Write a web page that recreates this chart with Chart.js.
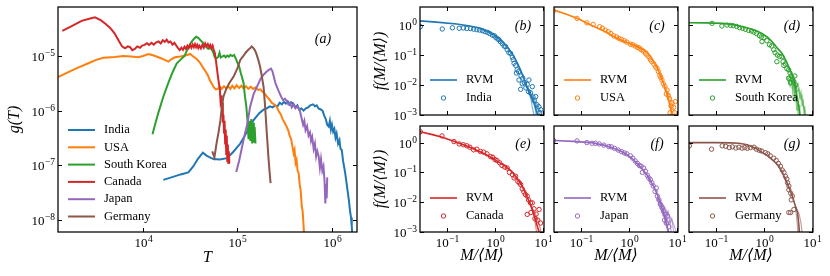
<!DOCTYPE html>
<html>
<head>
<meta charset="utf-8">
<script src="https://cdn.jsdelivr.net/npm/chart.js@4.4.1/dist/chart.umd.min.js"></script>
<style>
  html, body { margin: 0; padding: 0; background: #fff; }
  #wrap { position: relative; width: 830px; height: 276px; overflow: hidden; }
</style>
</head>
<body>
<div id="wrap"></div>
<script>
// ---- panel (a): g(T) curves, [T, g] pairs ----
const countries = ['India', 'USA', 'South Korea', 'Canada', 'Japan', 'Germany'];
const colors = ['#1f77b4', '#ff7f0e', '#2ca02c', '#d62728', '#9467bd', '#8c564b'];

const indiaCurve = [[16400,5.4e-8],[20000,6e-8],[25000,6.8e-8],[30200,7.4e-8],[34000,9.5e-8],[38000,1.3e-7],[43000,1.7e-7],[47000,1.5e-7],[51000,1.4e-7],[55700,1.3e-7],[65000,1.28e-7],[77600,1.35e-7],[90000,1.75e-7],[107000,2.5e-7],[125000,4e-7],[148000,6.7e-7],[170000,9e-7],[190000,1.05e-6],[204000,1.1e-6],[220000,1.2e-6],[235000,1.15e-6],[250000,1.25e-6],[265000,1.2e-6],[280000,1.4e-6],[295000,1.3e-6],[309000,1.45e-6],[325000,1.35e-6],[340000,1.48e-6],[355000,1.3e-6],[370000,1.42e-6],[389000,1.35e-6],[410000,1.15e-6],[430000,1.25e-6],[450000,1.05e-6],[475000,1.1e-6],[500000,1.0e-6],[530000,1.1e-6],[560000,1.15e-6],[590000,1.25e-6],[631000,1.3e-6],[660000,1.2e-6],[690000,1.25e-6],[720000,1.1e-6],[760000,1.05e-6],[794000,1.0e-6],[830000,8e-7],[860000,7e-7],[890000,5.5e-7],[923000,5.1e-7],[950000,6.5e-7],[975000,4.5e-7],[1000000,5.5e-7],[1030000,4.1e-7],[1060000,4.6e-7],[1090000,3.2e-7],[1120000,3.8e-7],[1160000,2.5e-7],[1200000,2.9e-7],[1230000,2.0e-7],[1270000,1.9e-7],[1310000,1.2e-7],[1350000,9e-8],[1380000,7.2e-8],[1420000,5e-8],[1460000,3.5e-8],[1510000,2.3e-8],[1550000,1.5e-8],[1590000,1.1e-8],[1620000,7.6e-9],[1660000,4e-9]];
const usaCurve = [[1260,4.1e-6],[1600,5e-6],[2000,6e-6],[2600,7.3e-6],[3200,8.5e-6],[3800,9.3e-6],[5000,9.6e-6],[6200,1.0e-5],[7500,9.8e-6],[8900,9.5e-6],[10000,1.0e-5],[11400,1.09e-5],[13000,1.02e-5],[15000,9.3e-6],[17000,8.5e-6],[18600,7.9e-6],[20000,8.8e-6],[21800,9.5e-6],[25000,9.8e-6],[28000,1.02e-5],[31600,1.09e-5],[34000,9.8e-6],[37000,8.8e-6],[40000,7.6e-6],[43000,6.2e-6],[46000,5.2e-6],[49000,4.3e-6],[51000,3.6e-6],[53000,3.2e-6],[56000,2.7e-6],[59000,2.45e-6],[62000,2.5e-6],[65000,2.75e-6],[68000,2.5e-6],[72000,2.8e-6],[76000,2.55e-6],[80000,2.8e-6],[84000,2.5e-6],[88000,2.85e-6],[93000,2.55e-6],[98000,2.9e-6],[104000,2.6e-6],[110000,2.85e-6],[116000,2.55e-6],[123000,2.8e-6],[130000,2.5e-6],[138000,2.75e-6],[146000,2.5e-6],[155000,2.65e-6],[165000,2.4e-6],[175000,2.45e-6],[185000,2.2e-6],[195000,2.05e-6],[205000,1.8e-6],[218000,1.6e-6],[230000,1.4e-6],[245000,1.3e-6],[262000,1.15e-6],[275000,9.5e-7],[288000,8.5e-7],[300000,7e-7],[315000,6e-7],[331000,5.1e-7],[345000,4.3e-7],[358000,3.4e-7],[370000,3.0e-7],[382000,2.2e-7],[393000,1.65e-7],[402000,1.9e-7],[412000,1.1e-7],[422000,1.25e-7],[432000,8e-8],[444000,7.2e-8],[455000,4.5e-8],[466000,3.5e-8],[479000,1.76e-8],[490000,1.4e-8],[500000,8e-9],[512000,4e-9]];
const koreaCurve = [[12600,3.7e-7],[13400,5.5e-7],[14500,9e-7],[16400,1.8e-6],[18500,3.2e-6],[20500,5e-6],[22700,7.3e-6],[25000,8.6e-6],[27500,1.0e-5],[30200,1.45e-5],[32500,1.8e-5],[34500,2.05e-5],[36500,2.25e-5],[38500,2.15e-5],[40500,1.95e-5],[43000,1.75e-5],[46000,1.5e-5],[49000,1.35e-5],[52000,1.4e-5],[55000,1.2e-5],[57500,9.5e-6],[60000,9.1e-6],[62500,9.6e-6],[64500,1.15e-5],[66500,9.4e-6],[69000,9.8e-6],[72000,1.02e-5],[75000,9.5e-6],[78000,1.02e-5],[81000,9.7e-6],[84000,1.05e-5],[88000,1.0e-5],[92000,1.05e-5],[96000,9e-6],[100000,7.5e-6],[104000,6.5e-6],[108000,5e-6],[112000,4e-6],[116000,3.2e-6],[120000,1.8e-6],[124000,1.2e-6],[128000,6e-7],[131000,3e-7],[134000,6.5e-7],[137000,2.8e-7],[140000,7e-7],[143000,2.5e-7],[146000,6e-7],[149000,2.6e-7],[152000,5e-7],[155000,2.5e-7]];
const canadaCurve = [[1400,2.9e-5],[1800,3.6e-5],[2240,4.4e-5],[2700,4.8e-5],[3100,5.1e-5],[3600,4.5e-5],[4000,3.9e-5],[4470,3.3e-5],[5000,2.6e-5],[5500,1.95e-5],[6000,1.5e-5],[6450,1.38e-5],[6900,1.5e-5],[7300,1.45e-5],[7700,1.28e-5],[8200,1.35e-5],[8700,1.5e-5],[9300,1.42e-5],[9800,1.55e-5],[10400,1.6e-5],[11000,1.72e-5],[11600,1.6e-5],[12300,1.75e-5],[13000,1.62e-5],[13800,1.78e-5],[14600,1.85e-5],[15400,1.7e-5],[16200,1.95e-5],[17000,1.82e-5],[17800,2.0e-5],[18600,1.78e-5],[19500,1.85e-5],[20500,1.62e-5],[21500,1.75e-5],[22500,1.55e-5],[23500,1.4e-5],[24500,1.28e-5],[25500,1.42e-5],[26500,1.3e-5],[27500,1.48e-5],[28500,1.35e-5],[29500,1.55e-5],[30500,1.4e-5],[31500,1.6e-5],[32500,1.42e-5],[33500,1.62e-5],[34500,1.45e-5],[35500,1.65e-5],[36500,1.45e-5],[37500,1.6e-5],[38500,1.4e-5],[39500,1.55e-5],[41000,1.38e-5],[42500,1.6e-5],[44000,1.42e-5],[45500,1.7e-5],[47000,1.5e-5],[48500,1.65e-5],[50000,1.45e-5],[51500,1.6e-5],[53000,1.4e-5],[54500,1.55e-5],[56000,1.3e-5],[57500,1.15e-5],[59000,8.5e-6],[60500,6e-6],[62000,4.3e-6],[63500,3.2e-6],[65000,2.5e-6],[66000,1.6e-6],[67000,1.9e-6],[68000,1.1e-6],[69000,1.4e-6],[70000,6e-7],[71000,8.5e-7],[72000,4e-7],[73000,6.5e-7],[74000,2.5e-7],[75000,4.5e-7],[76000,1.6e-7],[77000,3.5e-7],[78000,1.2e-7],[79000,2.4e-7],[80000,1.1e-7],[81000,1.8e-7],[82000,1.1e-7]];
const japanCurve = [[97000,7.5e-8],[104000,1.2e-7],[112000,2.2e-7],[120000,3.8e-7],[128000,6e-7],[136000,1.18e-6],[148000,2.0e-6],[161000,2.75e-6],[175000,3.8e-6],[190000,4.6e-6],[204000,5.2e-6],[215000,5.6e-6],[226000,5.9e-6],[234000,5.3e-6],[242000,4.2e-6],[252000,3.2e-6],[262000,2.7e-6],[275000,2.2e-6],[290000,1.8e-6],[305000,1.55e-6],[318000,1.65e-6],[331000,1.5e-6],[345000,1.3e-6],[360000,1.4e-6],[375000,1.15e-6],[390000,1.3e-6],[410000,1.1e-6],[430000,1.2e-6],[457000,1.0e-6],[475000,7.5e-7],[495000,5.5e-7],[510000,6.5e-7],[525000,4.4e-7],[545000,5.2e-7],[565000,3.5e-7],[585000,4e-7],[600000,2.8e-7],[617000,3.3e-7],[640000,2.0e-7],[660000,2.5e-7],[680000,1.45e-7],[700000,1.8e-7],[724000,1.45e-7],[745000,9e-8],[765000,1.3e-7],[790000,8e-8],[813000,9.5e-8],[835000,5e-8],[851000,2e-8],[865000,4.5e-8],[880000,2.5e-8],[890000,6e-8]];
const germanyCurve = [[54000,1.8e-7],[57000,1.4e-7],[60000,2.5e-7],[63000,4e-7],[66000,6.7e-7],[68000,1.1e-6],[71000,1.8e-6],[76000,2.5e-6],[82000,3.2e-6],[91000,4.2e-6],[100000,6e-6],[107000,8.5e-6],[115000,1.0e-5],[122000,1.15e-5],[130000,1.3e-5],[136000,1.38e-5],[141000,1.5e-5],[146000,1.42e-5],[152000,1.3e-5],[158000,1.12e-5],[166000,8.5e-6],[173000,6.5e-6],[180000,4.5e-6],[189000,2.7e-6],[196000,1.2e-6],[204000,4e-7],[212000,1.5e-7],[218000,8e-8],[224000,4.7e-8]];
const curvesA = [indiaCurve, usaCurve, koreaCurve, canadaCurve, japanCurve, germanyCurve];

// ticks
const ticksT = [1e4, 1e5, 1e6];
const ticksG = [1e-8, 1e-7, 1e-6, 1e-5];
const ticksM = [0.1, 1, 10];
const ticksF = [1e-3, 1e-2, 1e-1, 1];

// ---- panels (b)-(g): RVM curve, RVM tail realisations, data points, [x, f] pairs ----
const rvmIndia = [[0.0275,1.38],[0.06,1.25],[0.16,1.08],[0.3,0.93],[0.5,0.78],[0.7,0.62],[0.95,0.47],[1.2,0.35],[1.55,0.245],[2.0,0.15],[2.5,0.088],[3.0,0.05],[3.4,0.032],[4.0,0.017],[4.6,0.0088],[5.5,0.0045],[6.5,0.0025],[7.5,0.0012],[8.0,0.0009]];
const tailsIndia = [
  [[4.2,0.012],[5.0,0.006],[5.6,0.0035],[6.0,0.0018],[6.4,0.0011],[6.6,0.0008]],
  [[4.2,0.012],[5.2,0.0062],[6.2,0.0034],[7.0,0.0022],[7.8,0.0015],[8.5,0.0011],[9.0,0.0008]],
  [[4.2,0.012],[5.4,0.0058],[6.8,0.003],[7.9,0.0019],[8.9,0.0013],[9.6,0.0009]],
  [[4.2,0.012],[4.9,0.0075],[5.8,0.0042],[6.6,0.0024],[7.0,0.0014],[7.3,0.0009]]
];
const ptsIndia = [[0.028,0.88],[0.08,0.74],[0.13,0.81],[0.18,0.78],[0.22,0.8],[0.26,0.77],[0.31,0.76],[0.36,0.73],[0.42,0.7],[0.48,0.68],[0.55,0.65],[0.62,0.6],[0.7,0.57],[0.78,0.52],[0.88,0.46],[0.97,0.44],[1.05,0.38],[1.15,0.34],[1.2,0.33],[1.3,0.28],[1.42,0.24],[1.55,0.2],[1.67,0.19],[1.8,0.15],[1.95,0.12],[2.12,0.113],[2.3,0.085],[2.5,0.053],[2.4,0.07],[2.7,0.045],[2.9,0.032],[2.8,0.025],[3.16,0.0147],[3.1,0.028],[3.43,0.0072],[3.5,0.02],[3.8,0.017],[3.7,0.011],[4.1,0.012],[4.4,0.008],[4.7,0.0105],[5.1,0.0147],[5.0,0.006],[5.5,0.0055],[6.0,0.0088],[6.2,0.004],[6.6,0.003],[7.05,0.0041],[7.5,0.0022],[8.2,0.0019],[8.6,0.0012],[9.0,0.0015]];

const rvmUSA = [[0.0275,3.16],[0.05,2.3],[0.09,1.6],[0.16,1.0],[0.25,0.72],[0.35,0.57],[0.48,0.41],[0.7,0.31],[0.95,0.25],[1.26,0.215],[1.7,0.17],[2.37,0.13],[3.0,0.075],[3.8,0.041],[4.5,0.021],[5.25,0.0114],[6.0,0.006],[6.7,0.0032],[7.3,0.0018],[7.9,0.0011],[8.3,0.0008]];
const tailsUSA = [
  [[5.5,0.009],[6.5,0.004],[7.2,0.0018],[7.6,0.0009]],
  [[5.5,0.009],[7.0,0.0045],[8.2,0.002],[9.0,0.0009]]
];
const ptsUSA = [[0.027,3.0],[0.083,1.67],[0.133,1.19],[0.18,1.05],[0.245,0.88],[0.28,0.78],[0.32,0.68],[0.37,0.6],[0.42,0.52],[0.48,0.44],[0.55,0.4],[0.62,0.36],[0.7,0.33],[0.8,0.3],[0.9,0.27],[1.07,0.23],[1.2,0.22],[1.35,0.2],[1.5,0.18],[1.65,0.17],[1.8,0.15],[2.0,0.135],[2.2,0.115],[2.37,0.1],[2.6,0.085],[2.8,0.07],[3.0,0.06],[3.3,0.05],[3.6,0.04],[3.83,0.036],[4.1,0.028],[4.4,0.021],[4.87,0.0147],[4.6,0.018],[5.2,0.011],[5.6,0.009],[6.2,0.0068],[6.0,0.005],[6.6,0.0045],[7.0,0.0035],[7.9,0.0025],[7.5,0.002],[8.5,0.0018],[9.2,0.0028],[8.8,0.0012],[7.2,0.0012]];

const rvmKorea = [[0.0275,1.19],[0.06,1.18],[0.14,1.14],[0.25,1.0],[0.48,0.78],[0.7,0.65],[0.91,0.53],[1.2,0.39],[1.47,0.28],[1.9,0.17],[2.37,0.114],[2.8,0.07],[3.27,0.041],[3.7,0.025],[4.2,0.0147],[4.9,0.0041],[5.3,0.002],[5.6,0.001]];
const tailsKorea = [
  [[3.0,0.02],[3.3,0.011],[3.6,0.018],[3.9,0.008],[4.2,0.012],[4.4,0.005],[4.6,0.008],[4.8,0.0025],[5.0,0.004],[5.2,0.0014],[5.4,0.0022],[5.6,0.0008]],
  [[3.3,0.02],[3.8,0.014],[4.3,0.018],[4.7,0.008],[5.1,0.011],[5.5,0.004],[5.9,0.006],[6.2,0.002],[6.5,0.0035],[6.8,0.0012],[7.1,0.002],[7.3,0.0008]],
  [[3.2,0.018],[3.5,0.009],[3.8,0.014],[4.0,0.005],[4.2,0.009],[4.4,0.0028],[4.6,0.005],[4.8,0.0014],[5.0,0.0024],[5.2,0.0008]],
  [[3.5,0.02],[4.1,0.016],[4.6,0.011],[5.0,0.006],[5.4,0.0075],[5.8,0.0035],[6.2,0.0045],[6.6,0.002],[7.0,0.0014],[7.4,0.0008]]
];
const ptsKorea = [[0.083,1.14],[0.133,0.93],[0.17,1.0],[0.2,0.98],[0.23,0.95],[0.27,0.9],[0.31,0.82],[0.36,0.78],[0.41,0.72],[0.48,0.66],[0.55,0.63],[0.62,0.58],[0.7,0.52],[0.8,0.45],[0.91,0.28],[0.88,0.4],[1.0,0.38],[1.15,0.3],[1.3,0.22],[1.45,0.2],[1.6,0.15],[1.7,0.12],[1.86,0.06],[1.9,0.1],[2.1,0.09],[2.37,0.088],[2.5,0.06],[2.6,0.045],[2.8,0.05],[3.0,0.035],[3.27,0.032],[3.27,0.0167],[3.5,0.025],[3.7,0.02],[3.9,0.015],[4.2,0.013],[4.4,0.02],[4.6,0.01],[3.6,0.012]];

const rvmCanada = [[0.0275,2.3],[0.05,1.85],[0.08,1.5],[0.13,1.15],[0.2,0.9],[0.3,0.7],[0.45,0.52],[0.65,0.4],[0.88,0.3],[1.2,0.22],[1.67,0.16],[2.2,0.11],[2.7,0.074],[3.5,0.04],[4.35,0.02],[5.2,0.01],[6.0,0.0057],[6.8,0.003],[7.6,0.0016],[8.3,0.001]];
const tailsCanada = [
  [[5.5,0.008],[6.5,0.0035],[7.0,0.0017],[7.4,0.0009]],
  [[5.5,0.008],[7.0,0.004],[8.2,0.002],[9.3,0.0009]]
];
const ptsCanada = [[0.028,2.3],[0.079,1.67],[0.14,1.08],[0.18,0.9],[0.22,0.85],[0.26,0.78],[0.3,0.7],[0.36,0.57],[0.42,0.6],[0.5,0.5],[0.58,0.48],[0.68,0.42],[0.81,0.34],[0.9,0.32],[1.0,0.27],[1.1,0.25],[1.25,0.21],[1.4,0.17],[1.6,0.15],[1.8,0.14],[2.0,0.1],[2.3,0.085],[2.5,0.065],[2.7,0.074],[3.0,0.05],[3.2,0.045],[3.43,0.039],[3.7,0.028],[4.0,0.022],[4.3,0.018],[4.7,0.016],[5.0,0.012],[5.5,0.0095],[6.0,0.0095],[4.7,0.0039],[5.6,0.0045],[6.5,0.006],[7.2,0.004],[8.3,0.0057],[8.9,0.002],[7.8,0.0025],[6.8,0.0028]];

const rvmJapan = [[0.0275,1.17],[0.07,1.1],[0.16,1.0],[0.3,0.82],[0.48,0.65],[0.7,0.5],[0.91,0.39],[1.2,0.28],[1.47,0.2],[1.9,0.13],[2.37,0.083],[2.8,0.052],[3.27,0.034],[3.9,0.018],[4.5,0.0095],[5.1,0.005],[5.7,0.0026],[6.3,0.0014],[6.8,0.0009]];
const tailsJapan = [
  [[3.8,0.015],[4.3,0.008],[4.6,0.011],[5.0,0.004],[5.3,0.006],[5.7,0.002],[6.0,0.003],[6.3,0.0012],[6.6,0.0008]],
  [[4.0,0.014],[4.8,0.009],[5.4,0.0065],[6.0,0.004],[6.6,0.005],[7.2,0.002],[7.8,0.0028],[8.4,0.0012],[9.0,0.0008]],
  [[4.2,0.012],[5.2,0.008],[6.0,0.0055],[7.0,0.0035],[7.8,0.0025],[8.6,0.0018],[9.3,0.0012],[10.0,0.0009]],
  [[3.9,0.013],[4.5,0.006],[5.0,0.008],[5.5,0.003],[6.1,0.0045],[6.6,0.0018],[7.1,0.0025],[7.6,0.0009]]
];
const ptsJapan = [[0.027,1.17],[0.083,1.14],[0.133,1.0],[0.17,0.95],[0.2,0.95],[0.24,0.9],[0.3,0.82],[0.38,0.74],[0.43,0.72],[0.5,0.64],[0.6,0.56],[0.7,0.5],[0.8,0.45],[0.9,0.42],[1.07,0.36],[1.2,0.3],[1.35,0.24],[1.5,0.2],[1.65,0.17],[1.8,0.16],[2.02,0.14],[1.9,0.1],[2.2,0.11],[2.4,0.08],[2.6,0.065],[2.79,0.057],[3.0,0.045],[3.2,0.035],[3.5,0.023],[3.7,0.03],[3.9,0.016],[4.2,0.012],[4.5,0.0085],[4.9,0.0065],[5.2,0.005],[5.7,0.0039],[6.3,0.0034],[5.5,0.0025],[6.0,0.002],[6.8,0.0015]];

const rvmGermany = [[0.0275,1.0],[0.1,1.0],[0.2,0.98],[0.3,0.95],[0.45,0.85],[0.67,0.65],[0.9,0.48],[1.26,0.34],[1.6,0.24],[2.05,0.16],[2.45,0.095],[2.83,0.057],[3.3,0.032],[3.9,0.016],[4.5,0.0075],[5.0,0.0045],[5.35,0.0016],[5.5,0.0009]];
const tailsGermany = [
  [[4.5,0.0075],[4.8,0.003],[5.0,0.0015],[5.1,0.0008]],
  [[4.5,0.0075],[5.4,0.004],[5.9,0.002],[6.3,0.0008]]
];
const ptsGermany = [[0.028,0.78],[0.081,0.6],[0.135,0.78],[0.16,0.75],[0.19,0.68],[0.22,0.72],[0.26,0.66],[0.3,0.7],[0.35,0.65],[0.4,0.68],[0.45,0.64],[0.52,0.68],[0.62,0.7],[0.7,0.6],[0.8,0.55],[0.9,0.52],[1.08,0.46],[1.2,0.42],[1.35,0.36],[1.6,0.3],[1.8,0.25],[2.0,0.2],[2.2,0.16],[2.4,0.12],[2.6,0.1],[2.8,0.074],[3.0,0.06],[3.1,0.045],[3.3,0.035],[3.3,0.026],[3.6,0.02],[3.9,0.016],[3.7,0.012],[4.2,0.0057],[3.3,0.0045],[3.6,0.0045]];

// ---- styling ----
const serif = "'Liberation Serif', 'DejaVu Serif', serif";
const titleFont = { family: serif, size: 16, style: 'italic' };
const toXY = pairs => pairs.map(p => ({ x: p[0], y: p[1] }));

// "10" + raised exponent, like mathtext 10^{n}
function drawPow(ctx, v, x, y, align) {
  const e = String(Math.round(Math.log10(v))).replace('-', '\u2212');
  ctx.font = '13px ' + serif;
  const wb = ctx.measureText('10').width;
  ctx.font = '9.5px ' + serif;
  const we = ctx.measureText(e).width;
  const x0 = align === 'right' ? x - wb - we - 0.5 : x - (wb + we + 0.5) / 2;
  ctx.font = '13px ' + serif;
  ctx.fillText('10', x0, y);
  ctx.font = '9.5px ' + serif;
  ctx.fillText(e, x0 + wb + 0.5, y - 5.5);
}

// inward ticks on all four sides, box frame, tick labels
const frameTicks = {
  id: 'frameTicks',
  afterDraw(chart, args, o) {
    const { ctx, chartArea: a, scales } = chart;
    const len = 4;
    ctx.save();
    ctx.strokeStyle = '#000';
    ctx.fillStyle = '#000';
    ctx.lineWidth = 1;
    ctx.textAlign = 'left';
    ctx.textBaseline = 'alphabetic';
    ctx.beginPath();
    for (const t of scales.x.ticks) {
      const px = Math.round(scales.x.getPixelForValue(t.value)) + 0.5;
      if (px < a.left - 1 || px > a.right + 1) continue;
      ctx.moveTo(px, a.bottom); ctx.lineTo(px, a.bottom - len);
      ctx.moveTo(px, a.top); ctx.lineTo(px, a.top + len);
      if (o.xLabels) drawPow(ctx, t.value, px, a.bottom + 15, 'center');
    }
    for (const t of scales.y.ticks) {
      const py = Math.round(scales.y.getPixelForValue(t.value)) + 0.5;
      if (py < a.top - 1 || py > a.bottom + 1) continue;
      ctx.moveTo(a.left, py); ctx.lineTo(a.left + len, py);
      ctx.moveTo(a.right, py); ctx.lineTo(a.right - len, py);
      if (o.yLabels) drawPow(ctx, t.value, a.left - 3, py + 4.5, 'right');
    }
    ctx.stroke();
    ctx.lineWidth = 1.25;
    ctx.strokeRect(a.left, a.top, a.right - a.left, a.bottom - a.top);
    ctx.restore();
  }
};

// legend inside the axes (no frame) + panel tag like (a)
const boxLegend = {
  id: 'boxLegend',
  afterDraw(chart, args, o) {
    const { ctx, chartArea: a } = chart;
    ctx.save();
    ctx.textBaseline = 'middle';
    ctx.textAlign = 'left';
    ctx.font = o.fontSize + 'px ' + serif;
    const items = chart.data.datasets.filter(d => d.label);
    items.forEach((d, i) => {
      const x0 = a.left + o.x;
      const y = a.top + o.y + i * o.dy;
      ctx.strokeStyle = d.borderColor;
      ctx.beginPath();
      if (d.showLine === false) {
        ctx.lineWidth = 1;
        ctx.arc(x0 + o.len / 2, y, 2.2, 0, Math.PI * 2);
      } else {
        ctx.lineWidth = d.borderWidth;
        ctx.moveTo(x0, y); ctx.lineTo(x0 + o.len, y);
      }
      ctx.stroke();
      ctx.fillStyle = '#000';
      ctx.fillText(d.label, x0 + o.len + o.gap, y);
    });
    ctx.font = 'italic 14px ' + serif;
    ctx.textAlign = 'center';
    ctx.fillText(o.tag, a.left + o.tagX, a.top + o.tagY);
    ctx.restore();
  }
};

const wrap = document.getElementById('wrap');

// box = chart area in page pixels, m = room around it (left holds y axis, bottom holds x axis)
function panel(box, m, datasets, xs, ys, legend) {
  const c = document.createElement('canvas');
  const w = box.r - box.l + m.l + m.r, h = box.b - box.t + m.t + m.b;
  c.width = w; c.height = h;
  c.style.cssText = `position:absolute;left:${box.l - m.l}px;top:${box.t - m.t}px;width:${w}px;height:${h}px`;
  wrap.appendChild(c);
  const axis = (s, fit) => ({
    type: 'logarithmic', min: s.min, max: s.max,
    afterBuildTicks: sc => { sc.ticks = s.ticks.map(v => ({ value: v })); },
    afterFit: sc => { if (sc.isHorizontal()) sc.height = fit; else sc.width = fit; },
    grid: { display: false, drawTicks: false },
    border: { display: false },
    ticks: { display: false },
    title: s.title ? { display: true, text: s.title, color: '#000', font: titleFont, padding: s.titlePad } : { display: false }
  });
  return new Chart(c, {
    type: 'line',
    data: { datasets },
    options: {
      responsive: false, animation: false, devicePixelRatio: 1,
      layout: { autoPadding: false, padding: { left: 0, top: m.t, right: m.r, bottom: 0 } },
      scales: { x: axis(xs, m.b), y: axis(ys, m.l) },
      plugins: {
        legend: { display: false }, tooltip: { enabled: false },
        boxLegend: legend,
        frameTicks: { xLabels: xs.labels, yLabels: ys.labels }
      },
      elements: { point: { radius: 0 }, line: { tension: 0 } }
    },
    plugins: [frameTicks, boxLegend]
  });
}

// ---- panel (a) ----
panel({ l: 58, t: 7, r: 357, b: 232 }, { l: 58, t: 7, r: 5, b: 44 },
  curvesA.map((cv, i) => ({
    label: countries[i], data: toXY(cv), borderColor: colors[i], borderWidth: 2,
    pointRadius: 0, fill: false, order: curvesA.length - i
  })),
  { min: 1260, max: 1.84e6, ticks: ticksT, labels: true, title: 'T', titlePad: { bottom: 9 } },
  { min: 6e-9, max: 7.9e-5, ticks: ticksG, labels: true, title: 'g(T)', titlePad: { top: 5 } },
  { x: 10, y: 123, dy: 17.3, len: 27, gap: 9, fontSize: 12.5, tag: '(a)', tagX: 265, tagY: 32 }
);

// ---- panels (b)-(g) ----
const small = [
  { name: 'India', rvm: rvmIndia, tails: tailsIndia, pts: ptsIndia, c: colors[0], tag: '(b)', box: { l: 420, t: 7, r: 544, b: 115 } },
  { name: 'USA', rvm: rvmUSA, tails: tailsUSA, pts: ptsUSA, c: colors[1], tag: '(c)', box: { l: 554, t: 7, r: 678, b: 115 } },
  { name: 'South Korea', rvm: rvmKorea, tails: tailsKorea, pts: ptsKorea, c: colors[2], tag: '(d)', box: { l: 689, t: 7, r: 813, b: 115 } },
  { name: 'Canada', rvm: rvmCanada, tails: tailsCanada, pts: ptsCanada, c: colors[3], tag: '(e)', box: { l: 420, t: 126, r: 544, b: 232 } },
  { name: 'Japan', rvm: rvmJapan, tails: tailsJapan, pts: ptsJapan, c: colors[4], tag: '(f)', box: { l: 554, t: 126, r: 678, b: 232 } },
  { name: 'Germany', rvm: rvmGermany, tails: tailsGermany, pts: ptsGermany, c: colors[5], tag: '(g)', box: { l: 689, t: 126, r: 813, b: 232 } }
];

function alpha(hex, a) {
  const n = parseInt(hex.slice(1), 16);
  return `rgba(${n >> 16},${(n >> 8) & 255},${n & 255},${a})`;
}

small.forEach((p, i) => {
  const bottom = i >= 3, first = i % 3 === 0;
  const ds = [
    { label: 'RVM', data: toXY(p.rvm), borderColor: p.c, borderWidth: 1.6, pointRadius: 0, fill: false, order: 1 },
    { label: p.name, data: toXY(p.pts), showLine: false, borderColor: p.c, pointRadius: 2.2,
      pointBorderWidth: 1, pointBackgroundColor: 'rgba(0,0,0,0)', pointBorderColor: p.c, order: 0 }
  ];
  p.tails.forEach(t => ds.push({ data: toXY(t), borderColor: alpha(p.c, 0.55), borderWidth: 1.2, pointRadius: 0, fill: false, order: 2 }));
  panel(p.box,
    { l: first ? 60 : 3, t: bottom ? 6 : 7, r: bottom ? 12 : 3, b: bottom ? 44 : 10 },
    ds,
    { min: 0.0275, max: 10.5, ticks: ticksM, labels: bottom, title: bottom ? 'M/\u27E8M\u27E9' : null, titlePad: { bottom: 11 } },
    { min: 1e-3, max: bottom ? 3.6 : 4.0, ticks: ticksF, labels: first, title: first ? 'f(M/\u27E8M\u27E9)' : null, titlePad: { top: 11 } },
    { x: 10, y: bottom ? 72 : 73, dy: 18, len: 27, gap: 9, fontSize: 12.5, tag: p.tag, tagX: 103, tagY: bottom ? 18 : 19 }
  );
});
</script>
</body>
</html>
